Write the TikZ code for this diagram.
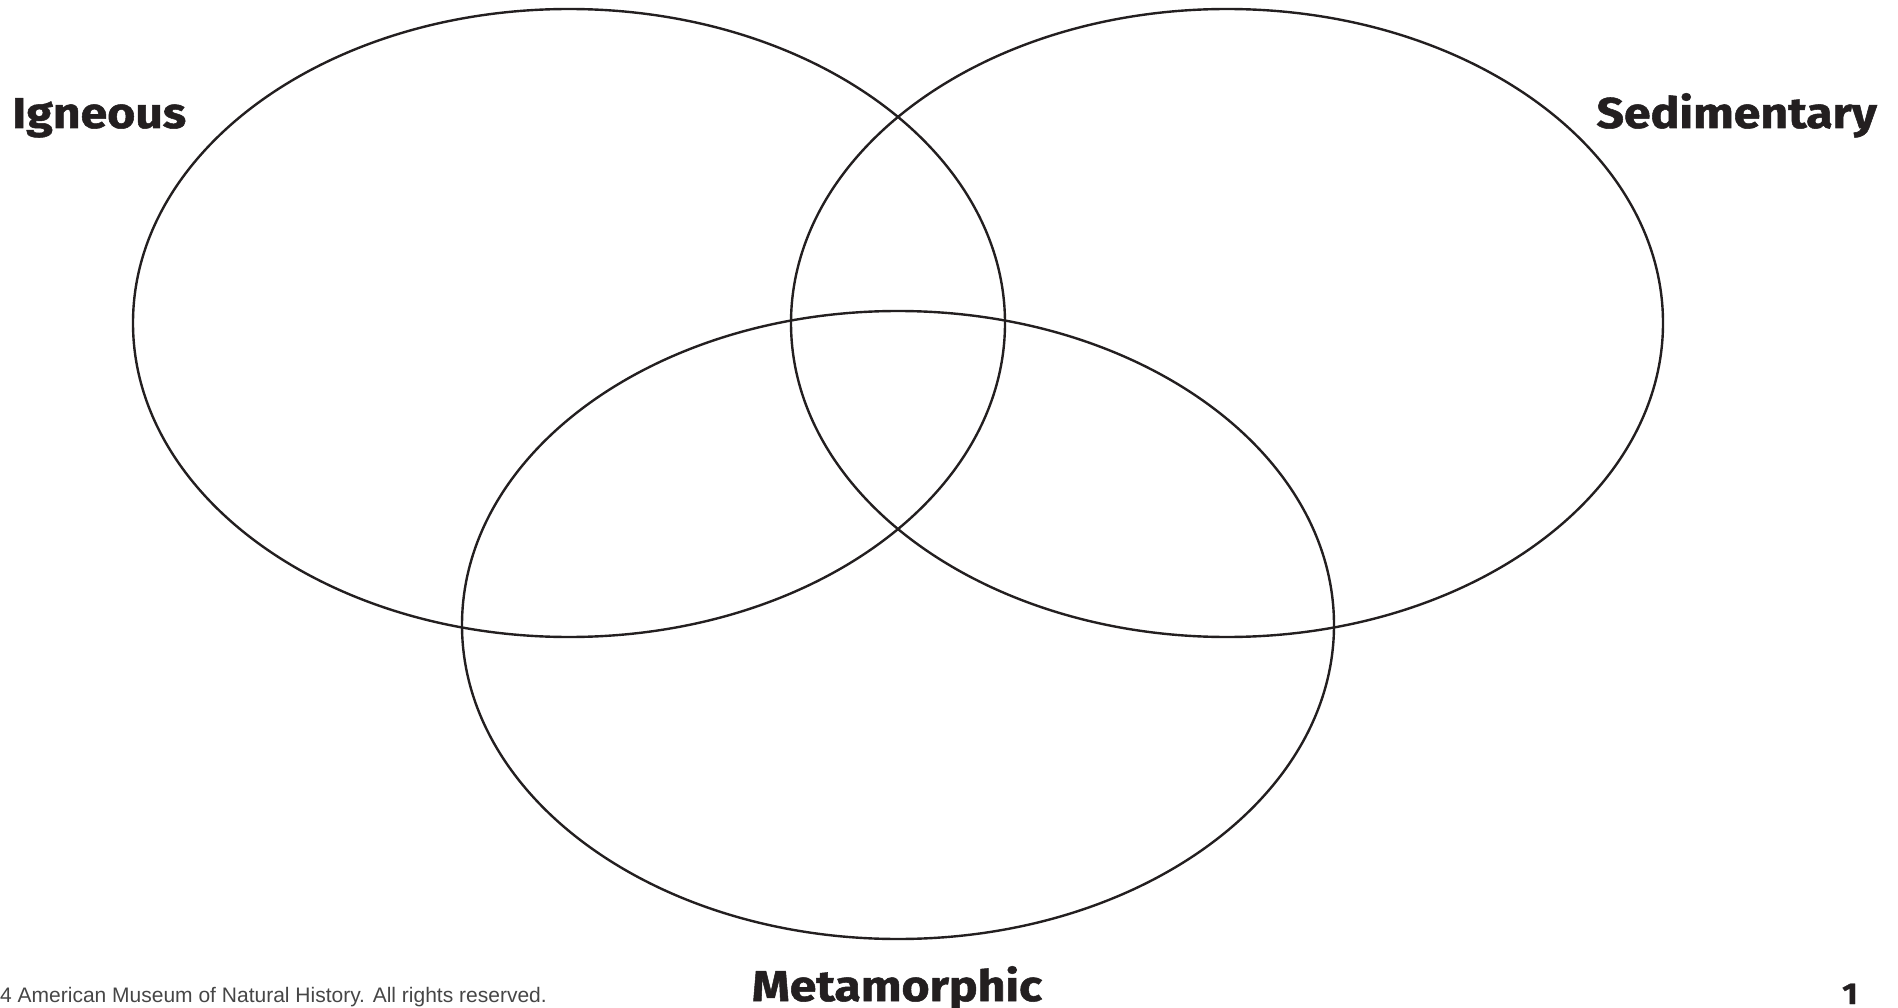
\documentclass[tikz,border=0pt]{standalone}
\usepackage{fontspec}
\setsansfont{Fira Sans}
\setmainfont{Liberation Sans}
\newfontfamily\labelfont{Fira Sans}[FakeStretch=1.12,BoldFeatures={FakeBold=1.2}]
\usetikzlibrary{positioning}
\definecolor{inkdark}{RGB}{35,31,32}
\definecolor{footgray}{RGB}{70,70,70}

\begin{document}
\begin{tikzpicture}[x=1pt,y=-1pt,
          ring/.style={draw=inkdark,line width=2.4pt},
          setlabel/.style={font=\fontsize{43}{43}\labelfont\bfseries,
            text=inkdark,inner sep=0pt},
          footnote/.style={font=\fontsize{21}{21}\selectfont,
            text=footgray,inner sep=0pt}]
        \useasboundingbox (0,0) rectangle (1898,1008);

        % the three rock sets
        \coordinate (cig) at (569,323);
        \coordinate (csed) at (1227,323);
        \coordinate (cmet) at (898,625);
        \draw[ring] (cig) ellipse [x radius=436,y radius=314];
        \draw[ring] (csed) ellipse [x radius=436,y radius=314];
        \draw[ring] (cmet) ellipse [x radius=436,y radius=314];

        \node[setlabel,anchor=base west] (igneous) at (12,128) {Igneous};
        \node[setlabel,anchor=base east] (sedimentary) at (1877,128) {Sedimentary};
        \node[setlabel,anchor=base] (metamorphic) at (897,1001) {Metamorphic};

        % footer
        \node[footnote,anchor=base west] (copyright) at (0,1002)
          {4 American Museum of Natural History. All rights reserved.};
        \node[setlabel,font=\fontsize{30}{30}\labelfont\bfseries,anchor=base east]
          (pagenum) at (1858,1004) {1};
      \end{tikzpicture}
\end{document}
